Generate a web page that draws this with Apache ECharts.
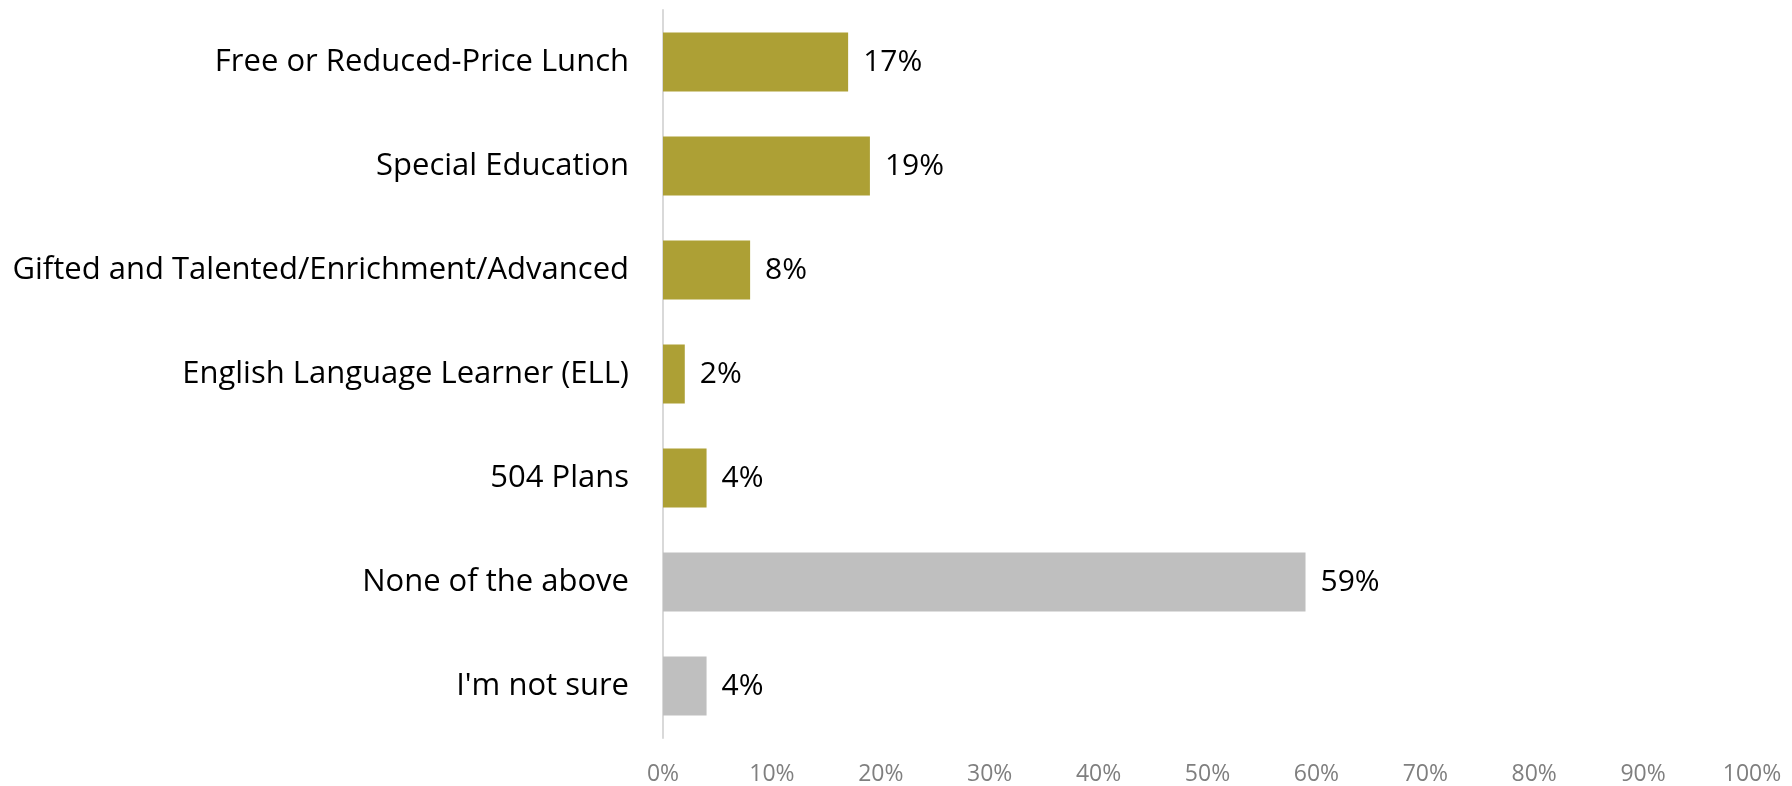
<!DOCTYPE html>
<html>
<head>
<meta charset="utf-8">
<script src="https://cdn.jsdelivr.net/npm/echarts@6/dist/echarts.min.js"></script>
<style>html,body{margin:0;padding:0;background:#fff}#c{width:1792px;height:786px}</style>
</head>
<body>
<div id="c"></div>
<script>
const categories = ["Free or Reduced-Price Lunch","Special Education","Gifted and Talented/Enrichment/Advanced","English Language Learner (ELL)","504 Plans","None of the above","I'm not sure"];
const values = [17, 19, 8, 2, 4, 59, 4];
const otherAnswers = ["None of the above","I'm not sure"];

const chart = echarts.init(document.getElementById('c'));
chart.setOption({
  animation: false,
  grid: {left: 663, right: 40, top: 10, bottom: 47, containLabel: false},
  xAxis: {
    type: 'value', min: 0, max: 100, interval: 10,
    axisLine: {show: false}, axisTick: {show: false}, splitLine: {show: false},
    axisLabel: {formatter: '{value}%', color: '#7f7f7f', fontFamily: 'Open Sans', fontSize: 23, margin: 25}
  },
  yAxis: {
    type: 'category', data: categories, inverse: true,
    axisLine: {show: true, lineStyle: {color: '#d9d9d9', width: 2}},
    axisTick: {show: false},
    axisLabel: {color: '#000', fontFamily: 'Open Sans', fontSize: 31, margin: 34}
  },
  series: [{
    type: 'bar',
    data: values,
    barWidth: 59,
    itemStyle: {color: p => otherAnswers.includes(categories[p.dataIndex]) ? '#bfbfbf' : '#ada035'},
    label: {show: true, position: 'right', distance: 15, formatter: '{c}%', color: '#000', fontFamily: 'Open Sans', fontSize: 30}
  }]
});
</script>
</body>
</html>
